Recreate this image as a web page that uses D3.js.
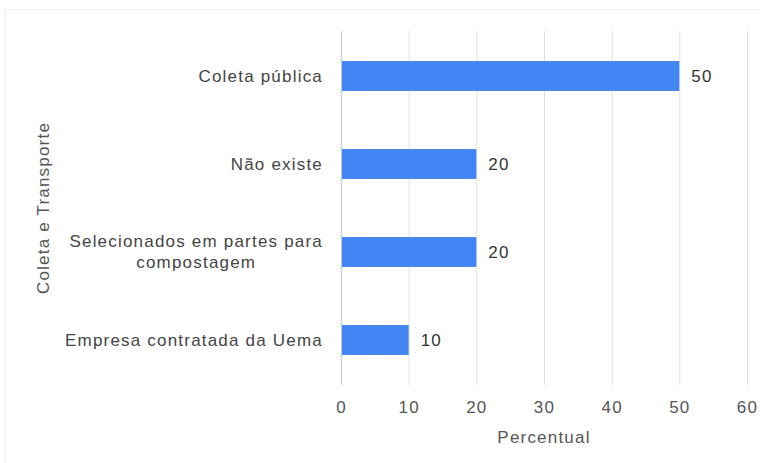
<!DOCTYPE html>
<html><head><meta charset="utf-8">
<script src="https://cdn.jsdelivr.net/npm/d3@7"></script>
<style>body{margin:0;background:#fff}svg{display:block}text{font-family:"Liberation Sans",Arial,sans-serif;letter-spacing:1.2px}</style>
</head><body><svg id="c" width="760" height="463"></svg>
<script>
const categories = ["Coleta pública", "Não existe", "Selecionados em partes para compostagem", "Empresa contratada da Uema"];
const categoryLines = [["Coleta pública"], ["Não existe"], ["Selecionados em partes para", "compostagem"], ["Empresa contratada da Uema"]];
const values = [50, 20, 20, 10];
const tickValues = [0, 10, 20, 30, 40, 50, 60];

const FS = 17;
const svg = d3.select("#c");
svg.append("rect").attr("x", 5.5).attr("y", 9.5).attr("width", 760).attr("height", 460)
  .attr("fill", "#fff").attr("stroke", "#f0f0f0");

const x = d3.scaleLinear().domain([0, 60]).range([341, 747]);
const y = d3.scaleBand().domain(categories).range([32, 384]).paddingInner(0.66).paddingOuter(0.33);

// gridlines
svg.append("g").selectAll("line").data(tickValues).join("line")
  .attr("x1", d => x(d) + 0.5).attr("x2", d => x(d) + 0.5)
  .attr("y1", 31).attr("y2", 385)
  .attr("stroke", d => d === 0 ? "#c8c8c8" : "#e0e0e0").attr("stroke-width", 1);

// x axis tick labels
const xAxis = d3.axisBottom(x).tickValues(tickValues).tickSize(0).tickPadding(0);
const gx = svg.append("g").attr("transform", "translate(0,407)").call(xAxis);
gx.select(".domain").remove();
gx.selectAll("text").attr("font-size", FS).attr("fill", "#555").attr("dy", "0.35em")
  .attr("font-family", "Liberation Sans, Arial, sans-serif");

// bars
svg.append("g").selectAll("rect").data(values).join("rect")
  .attr("x", x(0) + 1).attr("y", (d, i) => y(categories[i]))
  .attr("width", d => x(d) - x(0) - 1).attr("height", y.bandwidth())
  .attr("fill", "#4285f4");

// value labels
svg.append("g").selectAll("text").data(values).join("text")
  .attr("x", d => x(d) + 12).attr("y", (d, i) => y(categories[i]) + y.bandwidth() / 2)
  .attr("dy", "0.35em").attr("font-size", FS).attr("fill", "#333").text(d => d);

// category labels
const gy = svg.append("g");
categories.forEach((c, i) => {
  const lines = categoryLines[i];
  const cy = y(c) + y.bandwidth() / 2;
  const lh = 21;
  const t = gy.append("text").attr("text-anchor", "middle")
    .attr("font-size", FS).attr("fill", "#444");
  const spans = lines.map((l, j) => t.append("tspan")
      .attr("y", cy + (j - (lines.length - 1) / 2) * lh).attr("dy", "0.35em").text(l));
  const maxW = d3.max(spans, s => s.node().getComputedTextLength());
  spans.forEach(s => s.attr("x", 323 - maxW / 2));
});

// axis titles
svg.append("text").attr("x", x(30)).attr("y", 437).attr("dy", "0.35em").attr("text-anchor", "middle")
  .attr("font-size", FS).attr("fill", "#555").text("Percentual");
svg.append("text").attr("transform", "translate(43,208) rotate(-90)").attr("dy", "0.35em")
  .attr("text-anchor", "middle").attr("font-size", FS).attr("fill", "#555").text("Coleta e Transporte");
</script></body></html>
